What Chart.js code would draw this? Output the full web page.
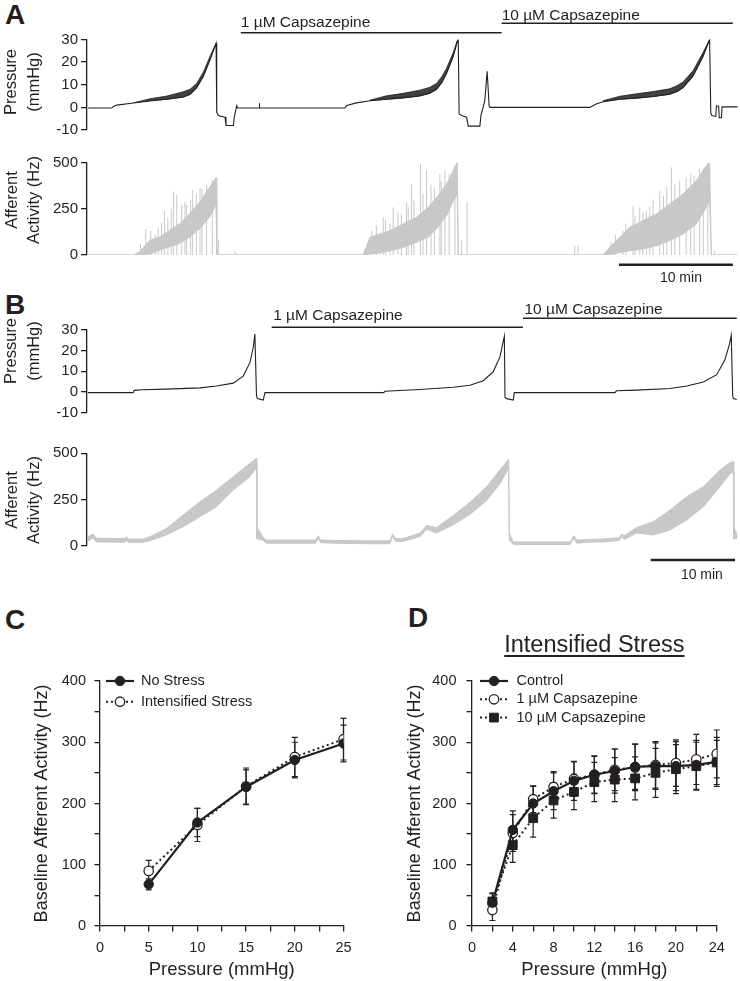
<!DOCTYPE html>
<html><head><meta charset="utf-8">
<script src="https://cdn.jsdelivr.net/npm/chart.js@4.4.1/dist/chart.umd.min.js"></script>
<style>
html,body{margin:0;padding:0;background:#fff;}
body{width:740px;height:981px;position:relative;overflow:hidden;font-family:'Liberation Sans',Arial,sans-serif;}
canvas{position:absolute;}
.lbl{position:absolute;font:bold 28px 'Liberation Sans',Arial,sans-serif;line-height:28px;color:#231f20;}
</style></head><body>
<div class="lbl" style="left:5px;top:1px">A</div>
<div class="lbl" style="left:5px;top:291px">B</div>
<div class="lbl" style="left:5px;top:606px">C</div>
<div class="lbl" style="left:408px;top:604px">D</div>
<canvas id="cA1" width="740" height="142" style="left:0;top:0"></canvas>
<canvas id="cA2" width="740" height="150" style="left:0;top:140px"></canvas>
<canvas id="cB1" width="740" height="145" style="left:0;top:290px"></canvas>
<canvas id="cB2" width="740" height="160" style="left:0;top:432px"></canvas>
<canvas id="cC" width="370" height="341" style="left:0;top:640px"></canvas>
<canvas id="cD" width="370" height="381" style="left:370px;top:600px"></canvas>
<script>
// ================= DATA =================
// Panel A: pressure trace [time (min), pressure (mmHg)]
const aPressure = [[0,-0.3],[2.08,-0.3],[2.22,0.4],[2.51,1.0],[3.98,1.9],[5.44,2.8],[6.9,3.6],[8.36,4.6],[8.95,5.8],[9.53,8.7],[10.12,13.8],[10.7,21.0],[11.23,28.3],
[11.29,-2.2],[11.43,-3.6],[12.02,-4.3],[12.1,-8.0],[12.75,-8.0],[12.83,-4.3],[13.04,0.7],[13.13,-0.3],[15.0,-0.3],[15.03,1.8],[15.06,-0.3],
[22.54,-0.3],[22.7,0.8],[23.55,2.0],[24.74,2.9],[26.2,3.6],[27.66,4.2],[29.12,5.1],[30.0,6.3],[30.59,8.0],[31.05,11.0],[31.46,15.0],[32.05,22.5],[32.4,29.0],[32.49,30.0],
[32.57,-2.9],[32.78,-3.6],[33.22,-4.3],[33.37,-8.3],[34.39,-8.3],[34.48,-3.6],[34.82,2.9],[35.03,16.0],[35.2,0.7],[35.3,0.0],
[44.04,0.0],[44.6,1.5],[45.2,2.5],[46.67,3.6],[48.13,4.1],[49.59,4.8],[51.05,5.8],[51.7,7.0],[52.22,8.7],[53.1,13.8],[53.98,22.5],[54.56,30.0],
[54.66,-2.5],[54.75,-3.6],[55.1,-4.0],[55.15,0.6],[55.35,0.6],[55.4,-4.6],[55.6,-4.6],[55.65,0.2],[57.0,0.2]];
// Panel A: pressure noise envelope during filling [time (min), lower (mmHg), upper (mmHg)]
const aPressureNoise = [[3.98,1.9,2.0],[5.44,2.8,3.8],[6.9,3.4,5.0],[7.6,3.8,5.9],[8.36,4.4,6.9],[8.95,5.6,8.0],[9.53,8.4,10.6],[10.12,13.5,15.6],[10.7,20.8,22.6],[11.23,28.0,28.3],
[24.74,2.8,3.2],[26.2,3.4,5.1],[27.66,4.0,6.2],[29.12,4.9,7.6],[30.0,6.1,8.9],[30.59,7.8,10.6],[31.05,10.8,13.6],[31.46,14.8,17.2],[32.05,22.3,24.2],[32.4,28.8,29.5],
[45.2,2.4,2.9],[46.67,3.4,4.9],[48.13,3.9,6.0],[49.59,4.6,7.0],[51.05,5.6,8.2],[51.7,6.8,9.6],[52.22,8.5,11.2],[53.1,13.6,16.2],[53.98,22.3,24.2],[54.56,29.8,30.0]];
// Panel A: afferent activity band [time (min), lower (Hz), upper (Hz)]
const aAfferentBand = [[0,0,0],[3.98,0,0],[4.56,0,20],[5.44,5,81],[6.32,27,99],[7.19,45,135],[8.07,63,171],[8.95,99,226],[9.82,144,289],[10.7,208,370],[11.14,262,410],[11.23,300,420],[11.29,0,0],
[24.1,0,0],[24.4,0,40],[24.74,5,96],[25.61,10,114],[26.49,23,132],[27.66,41,168],[28.83,69,204],[29.85,96,258],[30.59,141,312],[31.46,213,384],[32.05,294,457],[32.4,330,502],[32.49,0,0],
[45.2,0,0],[45.79,0,41],[46.67,14,96],[47.54,23,150],[48.71,32,186],[49.89,50,222],[51.05,78,276],[52.22,114,330],[53.39,168,402],[54.27,258,484],[54.56,300,502],[54.71,0,0],[57.0,0,0]];
// Panel A: afferent spikes [time (min), peak (Hz)]
const aAfferentSpikes = [[4.6,60],[5.06,139],[5.5,130],[5.9,110],[6.15,150],[6.45,175],[6.7,240],[7.0,200],[7.3,250],[7.49,343],[7.78,325],[8.22,271],[8.5,290],[8.65,271],[9.0,300],[9.18,352],[9.5,330],[9.82,365],[10.0,360],[10.4,380],[10.9,405],[11.43,80],[12.89,18],
[24.9,130],[25.3,160],[25.91,204],[26.1,190],[26.5,170],[26.78,258],[27.2,230],[27.5,220],[27.95,285],[28.1,260],[28.39,384],[28.6,300],[29.18,493],[29.4,330],[29.71,457],[30.1,380],[30.4,360],[30.88,439],[31.0,400],[31.32,457],[31.7,440],[32.2,480],[32.78,78],[33.27,285],[42.72,50],[43.01,50],
[45.9,70],[46.3,110],[46.96,132],[47.2,170],[47.84,267],[48.0,210],[48.42,258],[48.7,230],[49.01,240],[49.3,260],[49.6,300],[50.18,348],[50.5,320],[50.8,370],[51.2,475],[51.5,380],[51.93,402],[52.5,420],[52.9,440],[53.2,430],[53.68,466],[54.0,470],[54.4,500],[55.0,20]];
// Panel B: pressure trace [time (min), pressure (mmHg)]
const bPressure = [[0,-0.3],[5.37,-0.3],[5.5,0.8],[6.5,1.1],[9.33,1.4],[13.29,2.0],[15.27,2.9],[17.24,4.3],[18.42,7.7],[19.22,14.2],[19.61,21.4],[19.81,28.0],[20.0,-1.7],[20.1,-3.2],[20.8,-3.9],[21.0,-0.3],
[35.1,-0.3],[35.23,0.4],[39.38,1.2],[43.34,2.3],[45.31,3.3],[46.89,5.5],[48.08,9.9],[48.87,17.0],[49.39,27.0],[49.47,-2.5],[49.66,-3.2],[50.45,-3.9],[50.57,-0.3],
[62.5,-0.3],[62.7,0.6],[65.09,0.9],[69.04,1.7],[71.02,2.9],[73.0,4.8],[74.58,8.4],[75.56,15.7],[76.07,22.9],[76.3,27.5],[76.47,-1.7],[76.55,-3.2],[76.95,-3.6]];
// Panel B: afferent activity band [time (min), lower (Hz), upper (Hz)]
const bAfferentBand = [[0.0,25,50],[0.63,45,65],[1.0,22,42],[4.4,20,40],[4.59,30,50],[4.8,20,38],[6.56,20,38],[7.35,28,50],[9.34,60,95],[11.3,104,167],[13.29,158,239],[15.27,212,302],[17.24,302,374],[19.22,374,446],[20.0,420,473],
[20.05,40,104],[20.8,30,45],[21.2,15,32],[27.0,15,32],[27.32,40,55],[27.6,18,32],[29.1,15,30],[33.45,12,28],[35.82,12,28],[36.14,50,65],[36.5,25,40],[37.4,25,40],[39.38,50,70],[40.18,90,110],[41.36,70,100],[43.34,115,165],[45.31,170,235],[47.29,245,320],[48.87,335,410],[49.67,400,455],[49.9,430,470],
[49.98,30,70],[50.45,8,22],[57.18,8,22],[57.65,40,55],[58.0,15,32],[59.16,20,35],[61.13,22,38],[63.0,30,45],[63.31,50,65],[63.6,35,55],[65.09,70,100],[67.06,59,131],[69.04,86,194],[71.02,140,266],[73.0,212,320],[74.97,320,410],[76.16,390,450],[76.55,400,455],[76.6,40,100],[77.0,40,60]];
// Drug application bars [label, start (min), end (min)]
const aDrugs = [['1 µM Capsazepine',13.4,36.3],['10 µM Capsazepine',36.3,56.6]];
const bDrugs = [['1 µM Capsazepine',21.8,51.6],['10 µM Capsazepine',51.6,76.95]];
// Scale bars [start (min), length (min), label]
const aScaleBar = [46.6,10,'10 min'];
const bScaleBar = [66.75,10,'10 min'];
// Panel C
const cPressure = [5,10,15,20,25];
const cNoStress = [68,169,227,271,298];
const cNoStressErr = [9,23,28,29,30];
const cIntensified = [90,165,228,276,305];
const cIntensifiedErr = [17,27,30,32,34];
// Panel D
const dPressure = [2,4,6,8,10,12,14,16,18,20,22,24];
const dControl = [38,157,200,220,237,247,253,260,261,261,263,268];
const dControlErr = [15,31,28,30,32,31,36,37,38,40,40,40];
const d1uM = [26,152,207,227,240,247,255,259,263,266,272,281];
const d1uMErr = [17,30,22,25,28,30,34,38,38,38,41,39];
const d10uM = [40,132,176,205,219,235,239,241,250,256,261,267];
const d10uMErr = [14,28,31,29,29,32,36,35,40,40,39,36];

// ================= STYLE / HELPERS =================
const INK = '#231f20', GRAY = '#c8c8c8';
const FONT = "'Liberation Sans', Arial, Helvetica, sans-serif";
Chart.defaults.font.family = FONT;
Chart.defaults.color = INK;
Chart.defaults.animation = false;
Chart.defaults.plugins.legend.display = false;
Chart.defaults.plugins.tooltip.enabled = false;

const xyPairs = (arr, col) => arr.map(r => ({x: r[0], y: r[col]}));
const pts = (xs, ys) => xs.map((x, i) => ({x, y: ys[i]}));
const spikePts = arr => arr.flatMap(s => [{x:s[0], y:0}, {x:s[0], y:s[1]}, {x:s[0], y:null}]);
// split rows into separate runs wherever time jumps by more than `gap`
function runs(arr, gap) {
  const out = []; let cur = [];
  arr.forEach((r, i) => { if (i && r[0] - arr[i-1][0] > gap) { out.push(cur); cur = []; } cur.push(r); });
  if (cur.length) out.push(cur);
  return out;
}

function yAxis(min, max, step, width, o) {
  return {
    type:'linear', min, max,
    afterFit: s => { s.width = width; },
    ticks: { stepSize: step, autoSkip:false, font: {size: o.tickSize}, color: INK, padding: o.tickPad, callback: o.cb },
    grid: { drawOnChartArea:false, drawTicks:true, tickLength:o.tickLen, color:INK, lineWidth:1.3 },
    border: { display:true, color:INK, width:1.3 },
    title: o.title || {display:false}
  };
}
function sideTitle(lines, xs, yc, size) {
  return { id:'sideTitle', afterDraw(chart) {
    const ctx = chart.ctx; ctx.save(); ctx.fillStyle = INK; ctx.font = size + 'px ' + FONT;
    ctx.textAlign = 'center'; ctx.textBaseline = 'middle';
    lines.forEach((t, i) => { ctx.save(); ctx.translate(xs[i], yc); ctx.rotate(-Math.PI/2); ctx.fillText(t, 0, 0); ctx.restore(); });
    ctx.restore();
  }};
}
function drugPlugin(items, lay) {
  return { id:'drugBars', afterDraw(chart) {
    const ctx = chart.ctx, xs = chart.scales.x; ctx.save();
    ctx.strokeStyle = INK; ctx.fillStyle = INK; ctx.lineWidth = 1.5; ctx.font = '15.5px ' + FONT;
    ctx.textAlign = 'left'; ctx.textBaseline = 'alphabetic';
    items.forEach((it, i) => {
      const x0 = xs.getPixelForValue(it[1]), x1 = xs.getPixelForValue(it[2]);
      ctx.beginPath(); ctx.moveTo(x0, lay[i].line); ctx.lineTo(x1, lay[i].line); ctx.stroke();
      ctx.fillText(it[0], x0 + lay[i].dx, lay[i].text);
    });
    ctx.restore();
  }};
}
function scaleBarPlugin(sb, yBar, yText, dx) {
  return { id:'scaleBar', afterDraw(chart) {
    const ctx = chart.ctx, xs = chart.scales.x; ctx.save();
    const x0 = xs.getPixelForValue(sb[0]), x1 = xs.getPixelForValue(sb[0] + sb[1]);
    ctx.strokeStyle = INK; ctx.lineWidth = 2.5; ctx.beginPath(); ctx.moveTo(x0, yBar); ctx.lineTo(x1, yBar); ctx.stroke();
    ctx.fillStyle = INK; ctx.font = '14px ' + FONT; ctx.textAlign = 'center'; ctx.textBaseline = 'middle';
    ctx.fillText(sb[2], (x0 + x1) / 2 + dx, yText);
    ctx.restore();
  }};
}
function errorBars(sets) {
  return { id:'errorBars', beforeDatasetsDraw(chart) {
    const ctx = chart.ctx, xs = chart.scales.x, ys = chart.scales.y; ctx.save();
    ctx.strokeStyle = INK; ctx.lineWidth = 1.2;
    sets.forEach(s => s.x.forEach((xv, i) => {
      const px = xs.getPixelForValue(xv), yt = ys.getPixelForValue(s.y[i] + s.e[i]), yb = ys.getPixelForValue(s.y[i] - s.e[i]);
      ctx.beginPath(); ctx.moveTo(px, yt); ctx.lineTo(px, yb);
      ctx.moveTo(px - 3, yt); ctx.lineTo(px + 3, yt); ctx.moveTo(px - 3, yb); ctx.lineTo(px + 3, yb); ctx.stroke();
    }));
    ctx.restore();
  }};
}
function lineLegend(lay) {
  return { id:'lineLegend', afterDatasetsDraw(chart) {
    const ctx = chart.ctx, a = chart.chartArea;
    chart.data.datasets.forEach((ds, i) => {
      const y = a.top + lay.dy + i * lay.row, x0 = a.left + lay.x0, x1 = a.left + lay.x1, xm = (x0 + x1) / 2;
      ctx.save();
      ctx.strokeStyle = ds.borderColor; ctx.lineWidth = ds.borderWidth; ctx.setLineDash(ds.borderDash || []);
      ctx.beginPath(); ctx.moveTo(x0, y); ctx.lineTo(x1, y); ctx.stroke(); ctx.setLineDash([]);
      ctx.fillStyle = ds.pointBackgroundColor; ctx.strokeStyle = ds.pointBorderColor; ctx.lineWidth = ds.pointBorderWidth;
      Chart.helpers.drawPoint(ctx, {pointStyle: ds.pointStyle, radius: ds.pointRadius, rotation: 0, borderWidth: ds.pointBorderWidth}, xm, y);
      ctx.fillStyle = INK; ctx.font = '14.5px ' + FONT; ctx.textAlign = 'left'; ctx.textBaseline = 'middle';
      ctx.fillText(ds.label, a.left + lay.tx, y);
      ctx.restore();
    });
  }};
}
function underTitle(text, yBase, yLine, size) {
  return { id:'underTitle', afterDraw(chart) {
    const ctx = chart.ctx, a = chart.chartArea, cx = (a.left + a.right) / 2; ctx.save();
    ctx.fillStyle = INK; ctx.font = size + 'px ' + FONT; ctx.textAlign = 'center'; ctx.textBaseline = 'alphabetic';
    ctx.fillText(text, cx, yBase);
    const w = ctx.measureText(text).width;
    ctx.strokeStyle = INK; ctx.lineWidth = 1.8; ctx.beginPath(); ctx.moveTo(cx - w/2, yLine); ctx.lineTo(cx + w/2, yLine); ctx.stroke();
    ctx.restore();
  }};
}

const traceTick = {tickSize:15, tickPad:3, tickLen:6};

function pressureChart(id, data, noise, xMax, pad, plugins) {
  const ds = [{data: xyPairs(data, 1), borderColor: INK, borderWidth: 1.1, pointRadius: 0, tension: 0}];
  if (noise) runs(noise, 3).forEach(run => {
    ds.push({data: xyPairs(run, 1), borderColor: 'rgba(0,0,0,0)', borderWidth: 0, pointRadius: 0, fill: false});
    ds.push({data: xyPairs(run, 2), borderColor: INK, borderWidth: 0.8, pointRadius: 0, fill: '-1', backgroundColor: 'rgba(35,31,32,0.85)'});
  });
  return new Chart(document.getElementById(id), {
    type:'line',
    data:{datasets: ds},
    options:{ responsive:false, devicePixelRatio:1, layout:{padding:pad},
      scales:{ x:{type:'linear', display:false, min:-0.1, max:xMax}, y: yAxis(-10, 30, 10, 87, traceTick) } },
    plugins
  });
}
function afferentChart(id, band, spikes, xMax, pad, plugins) {
  const ds = [
    {data: xyPairs(band, 1), borderColor: GRAY, borderWidth: 1, pointRadius: 0, fill: false},
    {data: xyPairs(band, 2), borderColor: GRAY, borderWidth: 1, pointRadius: 0, fill: '-1', backgroundColor: GRAY}
  ];
  if (spikes) ds.push({data: spikePts(spikes), borderColor: GRAY, borderWidth: 1, pointRadius: 0, spanGaps: false});
  return new Chart(document.getElementById(id), {
    type:'line', data:{datasets: ds},
    options:{ responsive:false, devicePixelRatio:1, layout:{padding:pad},
      scales:{ x:{type:'linear', display:false, min:-0.1, max:xMax}, y: yAxis(0, 500, 250, 87, traceTick) } },
    plugins
  });
}

// Panel A
pressureChart('cA1', aPressure, aPressureNoise, 57.05, {top:39.5, bottom:10.5, left:0, right:2}, [
  sideTitle(['Pressure','(mmHg)'], [11, 34], 82, 16.5),
  drugPlugin(aDrugs, [{line:32.7, text:26.7, dx:0}, {line:23.3, text:20, dx:0}])
]);
afferentChart('cA2', aAfferentBand, aAfferentSpikes, 57.05, {top:22.7, bottom:35, left:0, right:2}, [
  sideTitle(['Afferent','Activity (Hz)'], [12, 34], 60, 16.5),
  scaleBarPlugin(aScaleBar, 124.7, 138, 5)
]);
// Panel B
pressureChart('cB1', bPressure, null, 77.1, {top:40, bottom:22.3, left:0, right:2}, [
  sideTitle(['Pressure','(mmHg)'], [11, 34], 61, 16.5),
  drugPlugin(bDrugs, [{line:37.3, text:30, dx:1.5}, {line:28.3, text:24, dx:1.5}])
]);
afferentChart('cB2', bAfferentBand, null, 77.1, {top:21.3, bottom:46, left:0, right:2}, [
  sideTitle(['Afferent','Activity (Hz)'], [12, 34], 68, 16.5),
  scaleBarPlugin(bScaleBar, 128, 143, 9)
]);

// Panels C and D
function xAxis(min, max, step, every, tickSize, title) {
  return {
    type:'linear', min, max,
    afterFit: s => { s.height = 55; },
    ticks:{ stepSize: step, autoSkip:false, maxRotation:0, font:{size:tickSize}, color:INK, padding:8,
      callback: v => (Math.abs(v / every - Math.round(v / every)) < 1e-6 ? v : '') },
    grid:{ drawOnChartArea:false, drawTicks:true, tickLength:5.5, color:INK, lineWidth:1.3 },
    border:{ display:true, color:INK, width:1.3 },
    title:{ display:true, text:title, font:{size:18.5}, color:INK, padding:{top:0, bottom:0} }
  };
}
const ySmallCb = v => (v % 100 === 0 ? v : '');
const filledCircle = {pointStyle:'circle', pointRadius:4.7, pointBackgroundColor:INK, pointBorderColor:INK, pointBorderWidth:1};
const openCircle = {pointStyle:'circle', pointRadius:4.7, pointBackgroundColor:'#fff', pointBorderColor:INK, pointBorderWidth:1.3};
const filledSquare = {pointStyle:'rect', pointRadius:6.2, pointBackgroundColor:INK, pointBorderColor:INK, pointBorderWidth:1};

new Chart(document.getElementById('cC'), {
  type:'line',
  data:{datasets:[
    Object.assign({label:'No Stress', data: pts(cPressure, cNoStress), borderColor:INK, borderWidth:2.2, tension:0}, filledCircle),
    Object.assign({label:'Intensified Stress', data: pts(cPressure, cIntensified), borderColor:INK, borderWidth:2, borderDash:[2,3], tension:0}, openCircle)
  ]},
  options:{ responsive:false, devicePixelRatio:1, layout:{padding:{top:41, right:26.5, bottom:0, left:0}},
    scales:{
      x: xAxis(0, 25, 2.5, 5, 14.5, 'Pressure (mmHg)'),
      y: yAxis(0, 400, 50, 100, {tickSize:14.5, tickPad:8.5, tickLen:5.5, cb: ySmallCb,
        title:{display:true, text:'Baseline Afferent Activity (Hz)', font:{size:18}, color:INK, padding:{top:31.5, bottom:0}}})
    } },
  plugins:[
    errorBars([{x:cPressure, y:cNoStress, e:cNoStressErr}, {x:cPressure, y:cIntensified, e:cIntensifiedErr}]),
    lineLegend({dy:0, row:20.7, x0:6, x1:34, tx:41})
  ]
});

new Chart(document.getElementById('cD'), {
  type:'line',
  data:{datasets:[
    Object.assign({label:'Control', data: pts(dPressure, dControl), borderColor:INK, borderWidth:2.2, tension:0}, filledCircle),
    Object.assign({label:'1 µM Capsazepine', data: pts(dPressure, d1uM), borderColor:INK, borderWidth:2, borderDash:[2,3], tension:0}, openCircle),
    Object.assign({label:'10 µM Capsazepine', data: pts(dPressure, d10uM), borderColor:INK, borderWidth:2, borderDash:[2,3], tension:0}, filledSquare)
  ]},
  options:{ responsive:false, devicePixelRatio:1, layout:{padding:{top:81, right:23.3, bottom:0, left:0}},
    scales:{
      x: xAxis(0, 24, 2, 4, 14.5, 'Pressure (mmHg)'),
      y: yAxis(0, 400, 50, 102, {tickSize:14.5, tickPad:10, tickLen:5.5, cb: ySmallCb,
        title:{display:true, text:'Baseline Afferent Activity (Hz)', font:{size:18}, color:INK, padding:{top:34, bottom:0}}})
    } },
  plugins:[
    errorBars([{x:dPressure, y:dControl, e:dControlErr}, {x:dPressure, y:d1uM, e:d1uMErr}, {x:dPressure, y:d10uM, e:d10uMErr}]),
    lineLegend({dy:0, row:18.3, x0:8, x1:36, tx:44.5}),
    underTitle('Intensified Stress', 51.7, 56, 23.5)
  ]
});
</script>
</body></html>
